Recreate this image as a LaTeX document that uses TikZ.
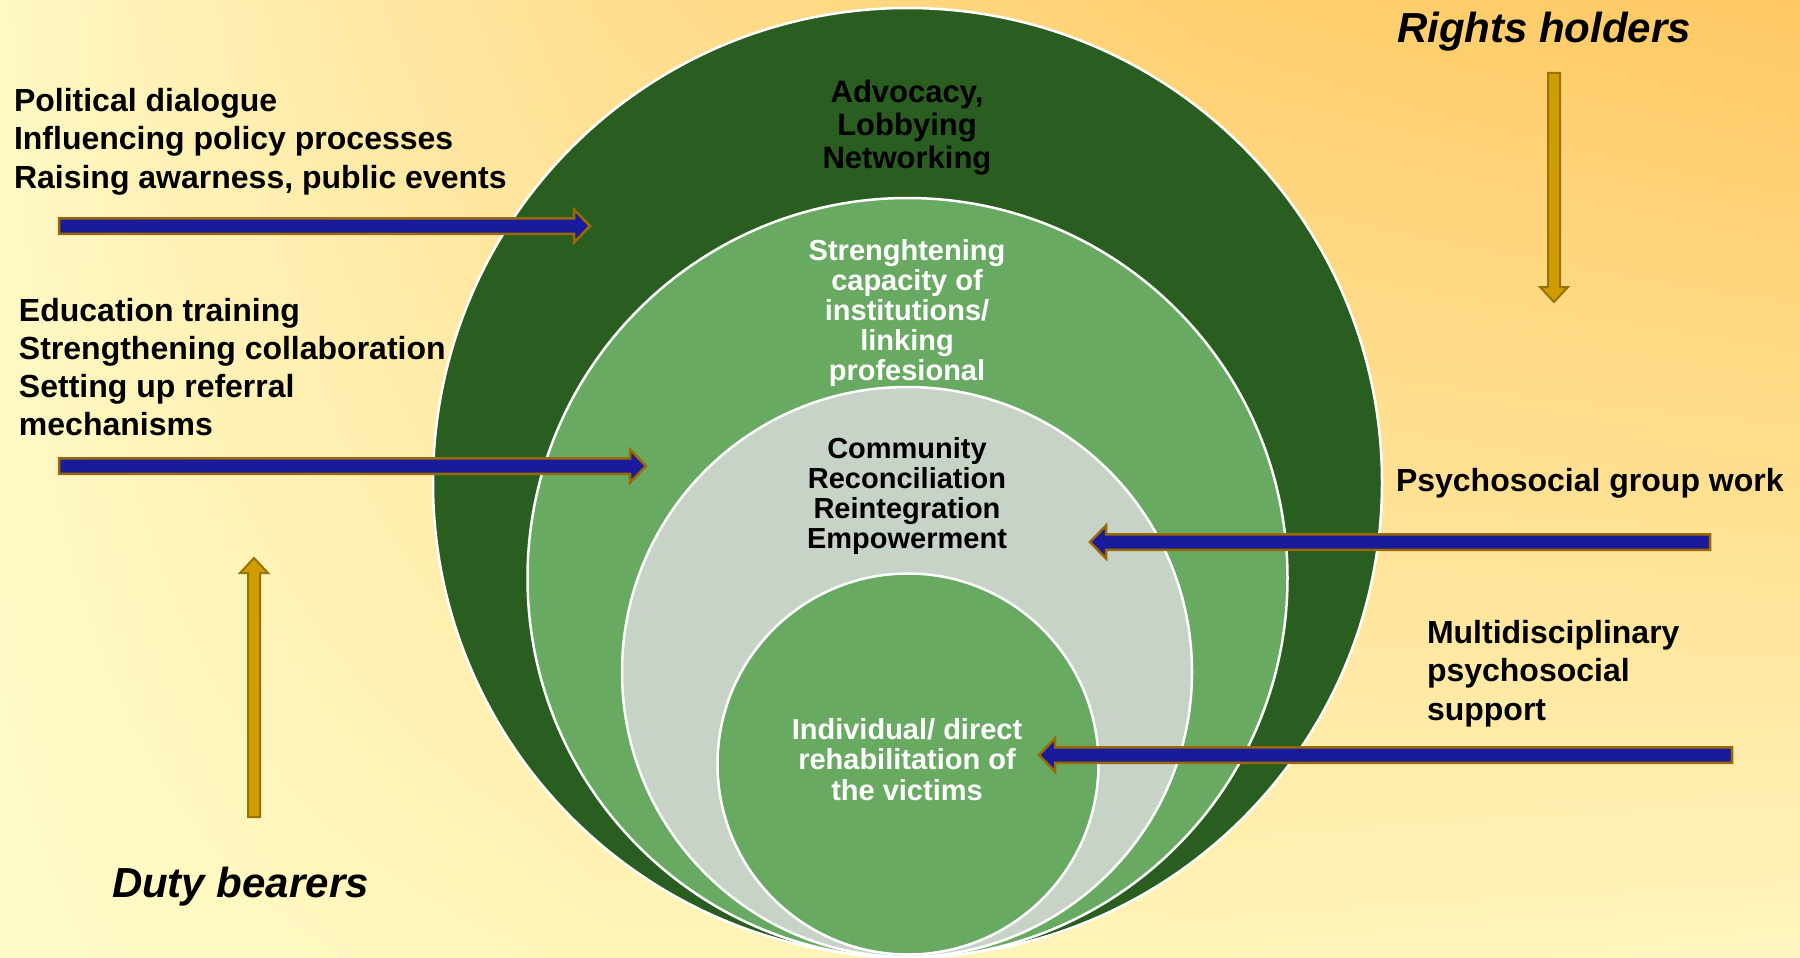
\documentclass[tikz,border=0pt]{standalone}
\usepackage{fontspec}
\setmainfont{Liberation Sans}
\usetikzlibrary{calc,shadings}
\definecolor{darkgreen}{HTML}{2A5E21}
\definecolor{midgreen}{HTML}{68AA61}
\definecolor{palegray}{HTML}{C8D3C8}
\definecolor{arrblue}{HTML}{1A1A9C}
\definecolor{arrbrown}{HTML}{9A6A00}
\definecolor{goldfill}{HTML}{CF9D00}
\definecolor{goldline}{HTML}{9A7200}
\definecolor{bgA}{HTML}{FFF8C4}
\definecolor{bgB}{HTML}{FFDE90}
\definecolor{bgC}{HTML}{FFD070}
\definecolor{bgD}{HTML}{FFC864}
\definecolor{bgE}{HTML}{FFF9C4}
\definecolor{bgF}{HTML}{FFE8A2}
\definecolor{bgG}{HTML}{FFE196}
\definecolor{bgH}{HTML}{FFDF8E}
\definecolor{bgI}{HTML}{FFFBC8}
\definecolor{bgJ}{HTML}{FFF5B8}
\definecolor{bgK}{HTML}{FFF4B8}
\definecolor{bgL}{HTML}{FFF6C0}
\newcommand{\fl}{\rule{0pt}{1em}}
\newcommand{\nolsk}{\lineskiplimit=-50pt\relax}
\newcommand{\mkharrow}[3]{\draw[blkarrow] ($(#1)+(0,-7.75)$) -- ($(#2)-(#3,7.75)$) -- ($(#2)-(#3,16.5)$) -- (#2) -- ($(#2)-(#3,-16.5)$) -- ($(#2)-(#3,-7.75)$) -- ($(#1)+(0,7.75)$) -- cycle;}
\newcommand{\mkvarrow}[3]{\draw[goldarrow] ($(#1)+(-6,0)$) -- ($(#2)-(6,#3)$) -- ($(#2)-(14,#3)$) -- (#2) -- ($(#2)-(-14,#3)$) -- ($(#2)-(-6,#3)$) -- ($(#1)+(6,0)$) -- cycle;}
\tikzset{
  ring/.style={circle, draw=white, line width=2.5pt, inner sep=0pt, outer sep=0pt},
  blkarrow/.style={fill=arrblue, draw=arrbrown, line width=2.5pt, line join=miter},
  goldarrow/.style={fill=goldfill, draw=goldline, line width=2pt, line join=miter},
  sidelbl/.style={inner sep=0pt, outer sep=0pt, anchor=north west, align=left},
  ctrlbl/.style={inner sep=0pt, outer sep=0pt, anchor=north, align=center},
  bigital/.style={inner sep=0pt, outer sep=0pt, anchor=base west, font=\fontsize{42}{48}\selectfont\bfseries\itshape},
}
\begin{document}
\begin{tikzpicture}[x=1pt,y=-1pt]
\useasboundingbox (0,0) rectangle (1800,958);
% background
\shade[upper left=bgA, upper right=bgB, lower left=bgE, lower right=bgF] (0,0) rectangle (600,479);
\shade[upper left=bgB, upper right=bgC, lower left=bgF, lower right=bgG] (600,0) rectangle (1200,479);
\shade[upper left=bgC, upper right=bgD, lower left=bgG, lower right=bgH] (1200,0) rectangle (1800,479);
\shade[upper left=bgE, upper right=bgF, lower left=bgI, lower right=bgJ] (0,479) rectangle (600,958);
\shade[upper left=bgF, upper right=bgG, lower left=bgJ, lower right=bgK] (600,479) rectangle (1200,958);
\shade[upper left=bgG, upper right=bgH, lower left=bgK, lower right=bgL] (1200,479) rectangle (1800,958);
% circles
\node[ring, fill=darkgreen, minimum size=949pt] (c1) at (907.5,482.5) {};
\node[ring, fill=midgreen, minimum size=760pt] (c2) at (907.5,578) {};
\node[ring, fill=palegray, minimum size=570pt] (c3) at (907,672) {};
\node[ring, fill=midgreen, minimum size=381pt] (c4) at (908,764) {};
% circle labels
\node[ctrlbl, font=\fontsize{31}{33.3}\selectfont\bfseries\nolsk] (t1) at (907,71)
  {\fl Advocacy,\\Lobbying\\Networking};
\node[ctrlbl, text=white, font=\fontsize{29}{30}\selectfont\bfseries\nolsk] (t2) at (907,231)
  {\fl Strenghtening\\capacity of\\institutions/\\linking\\profesional};
\node[ctrlbl, font=\fontsize{29}{30}\selectfont\bfseries\nolsk] (t3) at (907,429)
  {\fl Community\\Reconciliation\\Reintegration\\Empowerment};
\node[ctrlbl, text=white, font=\fontsize{29}{30.5}\selectfont\bfseries\nolsk] (t4) at (907,710)
  {\fl Individual/ direct\\rehabilitation of\\the victims};
% side labels
\node[sidelbl, font=\fontsize{32}{38.5}\selectfont\bfseries\nolsk] (l1) at (14,79)
  {\fl Political dialogue\\Influencing policy processes\\Raising awarness, public events};
\node[sidelbl, font=\fontsize{32}{38.3}\selectfont\bfseries\nolsk] (l2) at (19,289)
  {\fl Education training\\Strengthening collaboration\\Setting up referral\\mechanisms};
\node[sidelbl, font=\fontsize{32}{38.5}\selectfont\bfseries\nolsk] (r1) at (1396,459)
  {\fl Psychosocial group work};
\node[sidelbl, font=\fontsize{32}{38.5}\selectfont\bfseries\nolsk] (r2) at (1427,611)
  {\fl Multidisciplinary\\psychosocial\\support};
\node[bigital] (rh) at (1397,43) {Rights holders};
\node[bigital] (db) at (112,897) {Duty bearers};
% arrows
\coordinate (a1s) at (59,226);  \coordinate (a1e) at (590,226);
\coordinate (a2s) at (59,466);  \coordinate (a2e) at (646,466);
\coordinate (a3s) at (1710,542); \coordinate (a3e) at (1090,542);
\coordinate (a4s) at (1732,755); \coordinate (a4e) at (1039,755);
\coordinate (rs) at (1554,73);  \coordinate (re) at (1554,302);
\coordinate (ds) at (254,817);  \coordinate (de) at (254,558);
\mkharrow{a1s}{a1e}{16}
\mkharrow{a2s}{a2e}{16}
\mkharrow{a3s}{a3e}{-16}
\mkharrow{a4s}{a4e}{-16}
\mkvarrow{rs}{re}{15}
\mkvarrow{ds}{de}{-15}
\end{tikzpicture}
\end{document}
